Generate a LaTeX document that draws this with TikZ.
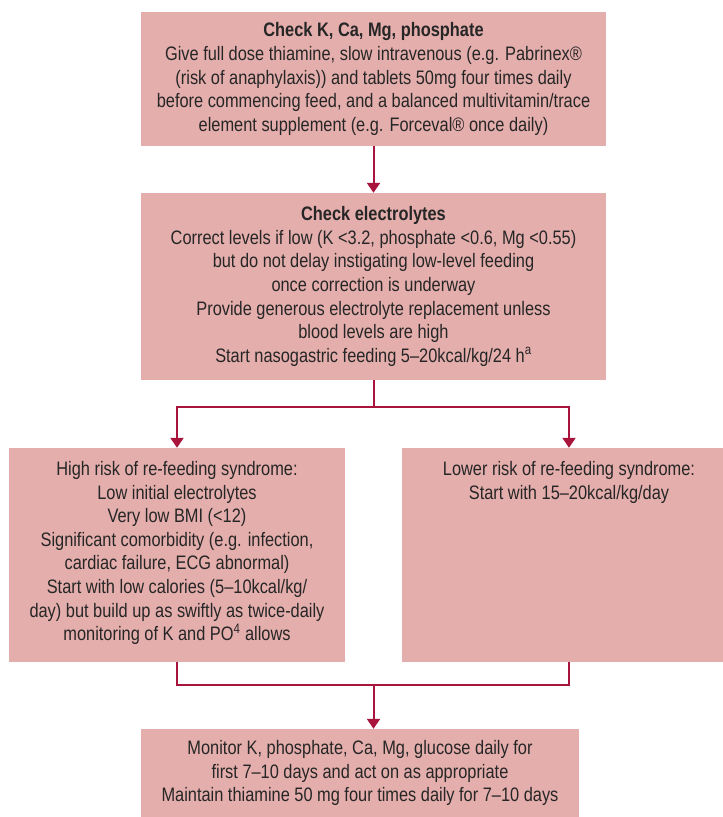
\documentclass[tikz,border=0pt]{standalone}
\usepackage{fontspec}
\setmainfont{Liberation Sans}[FakeStretch=0.84]
\usetikzlibrary{positioning,arrows.meta}
\definecolor{boxpink}{RGB}{228,174,172}
\definecolor{linkred}{RGB}{168,20,60}

\begin{document}
\begin{tikzpicture}[x=1pt, y=1pt,
        box/.style={fill=boxpink, draw=none, inner sep=0pt},
        txt/.style={align=center, text=black!85, font=\fontsize{19.5}{23.6}\selectfont},
        link/.style={draw=linkred, line width=2pt},
        arrow/.style={link, -{Triangle[width=13pt,length=10pt]}}]
        \useasboundingbox (0,0) rectangle (723,-817);
        % Boxes at the top
        \node[box, minimum width=465pt, minimum height=134pt] (check) at (373.5,-79) {};
        \node[txt] (checktext) at (check) {\textbf{Check K, Ca, Mg, phosphate}\\
            Give full dose thiamine, slow intravenous (e.g. Pabrinex®\\
            (risk of anaphylaxis)) and tablets 50mg four times daily\\
            before commencing feed, and a balanced multivitamin/trace\\
            element supplement (e.g. Forceval® once daily)};
        \node[box, minimum width=465pt, minimum height=187pt] (elec) at (373.5,-286.5) {};
        \node[txt] (electext) at (elec) {\textbf{Check electrolytes}\\
            Correct levels if low (K <3.2, phosphate <0.6, Mg <0.55)\\
            but do not delay instigating low-level feeding\\
            once correction is underway\\
            Provide generous electrolyte replacement unless\\
            blood levels are high\\
            Start nasogastric feeding 5–20kcal/kg/24 h\textsuperscript{a}};
        % Boxes for the two risks
        \node[box, minimum width=336pt, minimum height=214pt] (high) at (177,-555) {};
        \node[txt, anchor=north] (hightext) at ([yshift=-10pt]high.north) {High risk of re-feeding syndrome:\\
            Low initial electrolytes\\
            Very low BMI (<12)\\
            Significant comorbidity (e.g. infection,\\
            cardiac failure, ECG abnormal)\\
            Start with low calories (5–10kcal/kg/\\
            day) but build up as swiftly as twice-daily\\
            monitoring of K and PO\textsuperscript{4} allows};
        \node[box, minimum width=334pt, minimum height=214pt] (low) at (569,-555) {};
        \node[txt, anchor=north] (lowtext) at ([yshift=-10pt]low.north) {Lower risk of re-feeding syndrome:\\
            Start with 15–20kcal/kg/day};
        % Box at the bottom
        \node[box, minimum width=438pt, minimum height=88pt] (monitor) at (360,-773) {};
        \node[txt] (monitortext) at (monitor) {Monitor K, phosphate, Ca, Mg, glucose daily for\\
            first 7–10 days and act on as appropriate\\
            Maintain thiamine 50 mg four times daily for 7–10 days};
        % Connectors
        \coordinate (split) at (373.5,-407);
        \coordinate (merge) at (373.5,-685);
        \draw[arrow] (check.south) -- (elec.north);
        \draw[link] (elec.south) -- (split);
        \draw[arrow] (split) -| (high.north);
        \draw[arrow] (split) -| (low.north);
        \draw[link] (high.south) |- (merge) -| (low.south);
        \draw[arrow] (merge) -- (merge |- monitor.north);
\end{tikzpicture}
\end{document}
